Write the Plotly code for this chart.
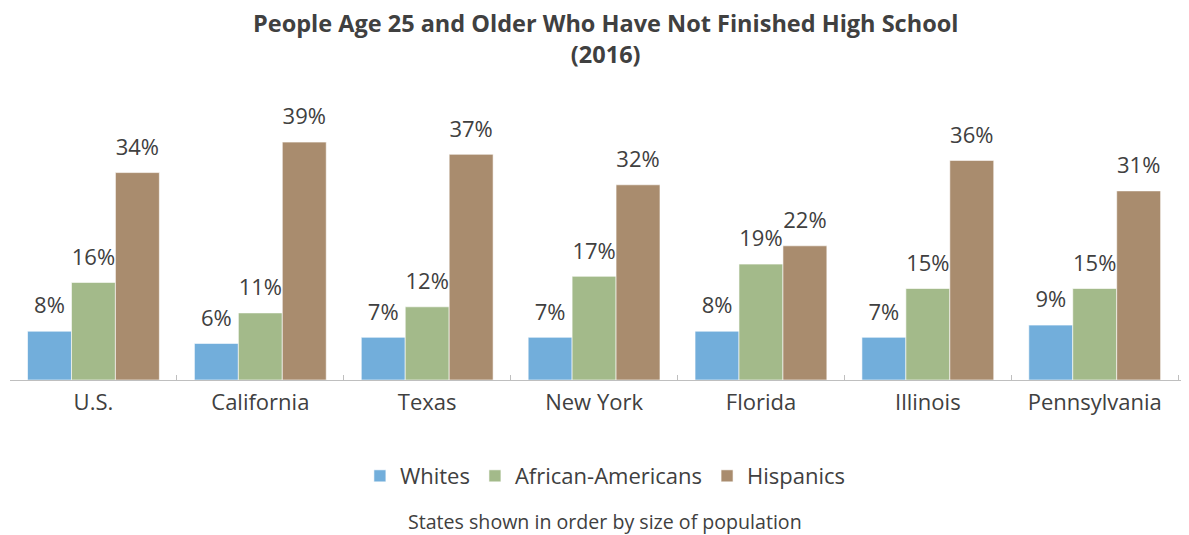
import plotly.graph_objects as go

states = ["U.S.", "California", "Texas", "New York", "Florida", "Illinois", "Pennsylvania"]
whites = [8, 6, 7, 7, 8, 7, 9]
african_americans = [16, 11, 12, 17, 19, 15, 15]
hispanics = [34, 39, 37, 32, 22, 36, 31]

series = [
    ("Whites", whites, "#72aedb"),
    ("African-Americans", african_americans, "#a3ba8a"),
    ("Hispanics", hispanics, "#a98c6e"),
]

fig = go.Figure()
for name, vals, col in series:
    fig.add_trace(go.Bar(
        x=states,
        y=vals,
        name=name,
        offsetgroup=name,
        marker=dict(color=col, line=dict(color="rgba(255,255,255,0.6)", width=1)),
    ))
# value labels as grouped text scatters; an invisible marker sets the gap above the bar
for name, vals, col in series:
    fig.add_trace(go.Scatter(
        x=states,
        y=vals,
        mode="markers+text",
        offsetgroup=name,
        marker=dict(size=18, opacity=0),
        text=[f"{v}%" for v in vals],
        textposition="top center",
        textfont=dict(size=22, color="#404040"),
        showlegend=False,
        hoverinfo="skip",
        cliponaxis=False,
    ))

# page has an 8px body margin, so the figure is 8px smaller than the window
fig.update_layout(
    width=1181,
    height=527,
    barmode="group",
    scattermode="group",
    bargap=0.21,
    scattergap=0.21,
    bargroupgap=0,
    plot_bgcolor="white",
    paper_bgcolor="white",
    font=dict(family="Open Sans", color="#404040"),
    margin=dict(l=2, r=0, t=92, b=155),
    showlegend=True,
    legend=dict(
        orientation="h", x=0.505, xanchor="center", y=-0.343, yanchor="middle",
        font=dict(size=22, color="#404040"),
        itemwidth=30,
        traceorder="normal",
    ),
    xaxis=dict(
        range=[-0.5, 6.565],
        showline=True, linecolor="#bfbfbf", linewidth=1,
        ticks="inside", tickson="boundaries", ticklen=5, tickcolor="#bfbfbf",
        tickfont=dict(size=22, color="#404040"),
        ticklabelstandoff=3,
        showgrid=False,
    ),
    yaxis=dict(range=[0, 45.9], visible=False, showgrid=False),
    annotations=[
        dict(
            text="<b>People Age 25 and Older Who Have Not Finished High School<br>(2016)</b>",
            x=0.505, xref="paper", y=1.2179, yref="paper",
            xanchor="center", yanchor="middle", showarrow=False,
            font=dict(size=23.5, color="#404040"),
        ),
        dict(
            text="States shown in order by size of population",
            x=0.505, xref="paper", y=-0.5036, yref="paper",
            xanchor="center", yanchor="middle", showarrow=False,
            font=dict(size=19.6, color="#404040"),
        ),
    ],
)

fig.write_html("out.html")
